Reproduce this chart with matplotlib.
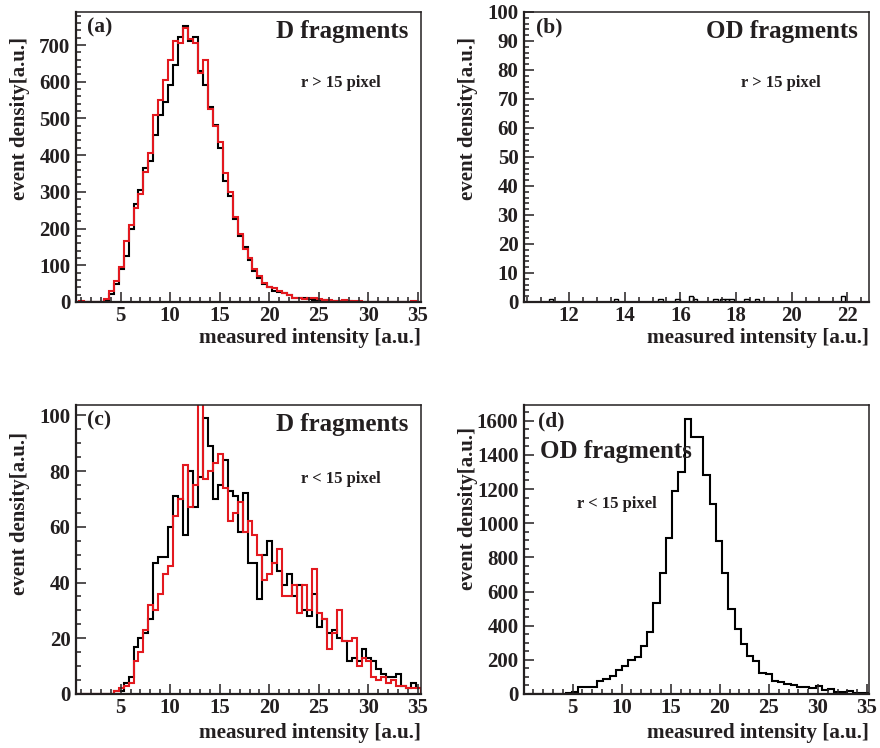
import numpy as np
import matplotlib
matplotlib.use("Agg")
import matplotlib.pyplot as plt
from matplotlib.ticker import MultipleLocator

# bins for the D-fragment histograms (a, c): 70 bins of width 0.5
D_EDGES = np.linspace(0.3, 35.3, 71)
# bins for the OD-fragment histogram (d): 55 bins
OD_EDGES = np.linspace(0.5, 35.5, 56)

# (a) D fragments, r > 15 pixel
a_black = [0, 0, 0, 0, 0, 0, 5, 22, 48, 90,
           125, 200, 268, 305, 365, 385, 455, 510, 545, 590,
           645, 722, 752, 712, 722, 630, 592, 532, 482, 420,
           330, 290, 225, 180, 150, 115, 85, 65, 48, 42,
           30, 28, 24, 18, 12, 10, 10, 7, 6, 5,
           4, 3, 3, 2, 2, 2, 1, 1, 1, 1,
           1, 1, 0, 0, 0, 0, 0, 0, 1, 0]
a_red = [0, 2, 1, 0, 0, 1, 8, 30, 58, 95,
         165, 210, 255, 295, 355, 405, 510, 550, 605, 660,
         710, 705, 745, 715, 705, 625, 660, 527, 480, 437,
         350, 300, 232, 185, 145, 120, 90, 72, 52, 42,
         38, 30, 25, 18, 12, 10, 8, 10, 12, 8,
         5, 5, 3, 3, 4, 2, 3, 2, 1, 1,
         1, 1, 0, 1, 1, 0, 1, 1, 3, 1]

# (b) OD fragments, r > 15 pixel: a few isolated entries
b_pos = [11.34, 13.68, 15.29, 15.89, 16.38, 16.52, 17.26, 17.52, 17.68, 17.84, 18.38, 18.76, 21.85]
b_val = [1, 1, 1, 1, 2, 1, 1, 1, 1, 1, 1, 1, 2]

# (c) D fragments, r < 15 pixel
c_black = [0, 0, 0, 0, 0, 0, 0, 0, 1, 1,
           4, 6, 17, 20, 22, 27, 47, 49, 49, 60,
           71, 70, 57, 80, 67, 78, 99, 89, 70, 75,
           84, 73, 71, 58, 72, 47, 47, 34, 50, 55,
           47, 44, 39, 43, 35, 39, 30, 28, 36, 24,
           27, 22, 23, 20, 19, 12, 13, 12, 16, 13,
           12, 9, 7, 6, 6, 7, 3, 2, 4, 2]
c_red = [0, 0, 0, 0, 0, 0, 0, 0, 1, 2,
         3, 4, 12, 15, 23, 32, 30, 36, 43, 46,
         64, 70, 82, 67, 75, 110, 77, 80, 83, 86,
         74, 62, 65, 69, 58, 62, 57, 50, 41, 43,
         47, 52, 35, 35, 39, 29, 39, 30, 45, 29,
         27, 16, 22, 30, 19, 19, 20, 10, 13, 12,
         6, 5, 6, 4, 5, 3, 3, 2, 2, 2]

# (d) OD fragments, r < 15 pixel
d_black = [0, 0, 0, 0, 0, 2, 5, 14, 41, 41,
           41, 74, 88, 107, 142, 166, 197, 216, 279, 361,
           532, 708, 916, 1191, 1300, 1608, 1507, 1507, 1283, 1113,
           893, 708, 499, 380, 292, 220, 191, 123, 119, 74,
           70, 58, 55, 43, 40, 35, 49, 21, 29, 10,
           10, 16, 6, 6, 5]

TEXT = "#231f20"
RED = "#e3191f"
LW = 1.5

plt.rcParams["font.family"] = ["Liberation Serif", "DejaVu Serif"]
plt.rcParams["font.weight"] = "bold"

fig = plt.figure(figsize=(8.8, 7.48), dpi=100)
ax_a = fig.add_axes([0.0864, 0.5963, 0.392, 0.3877])
ax_b = fig.add_axes([0.5955, 0.5963, 0.392, 0.3877])
ax_c = fig.add_axes([0.0864, 0.0722, 0.392, 0.3864])
ax_d = fig.add_axes([0.5955, 0.0722, 0.392, 0.3864])


def style(ax, xlim, ylim, xmaj, xmin, ymaj, ymin):
    ax.set_xlim(*xlim)
    ax.set_ylim(*ylim)
    ax.xaxis.set_major_locator(MultipleLocator(xmaj))
    ax.xaxis.set_minor_locator(MultipleLocator(xmin))
    ax.yaxis.set_major_locator(MultipleLocator(ymaj))
    ax.yaxis.set_minor_locator(MultipleLocator(ymin))
    ax.tick_params(which="both", direction="in", top=False, right=False,
                   colors=TEXT, labelsize=15, width=1.1)
    ax.tick_params(which="major", length=7)
    ax.tick_params(which="minor", length=3.5)
    ax.tick_params(axis="y", pad=4)
    ax.tick_params(axis="x", pad=3)
    for side, sp in ax.spines.items():
        sp.set_color(TEXT)
        sp.set_linewidth(1.6 if side in ("left", "bottom") else 1.1)


def labels(ax, ytop, xlab_y):
    ax.text(-0.163, ytop, "event density[a.u.]", transform=ax.transAxes,
            rotation=90, ha="center", va="top", fontsize=15, color=TEXT)
    ax.text(1.0, xlab_y, "measured intensity [a.u.]", transform=ax.transAxes,
            ha="right", va="center", fontsize=15.2, color=TEXT)


# (a)
ax_a.stairs(a_black, D_EDGES, color="black", lw=LW)
ax_a.stairs(a_red, D_EDGES, color=RED, lw=LW)
style(ax_a, (0.5, 35.3), (0, 790), 5, 1, 100, 20)
labels(ax_a, 0.914, -0.125)
ax_a.text(0.032, 0.948, "(a)", transform=ax_a.transAxes, ha="left", va="center", fontsize=15.5, color=TEXT)
ax_a.text(0.962, 0.931, "D fragments", transform=ax_a.transAxes, ha="right", va="center", fontsize=18, color=TEXT)
ax_a.text(0.652, 0.755, "r > 15 pixel", transform=ax_a.transAxes, ha="left", va="center", fontsize=12, color=TEXT)

# (b)
ax_b.bar(b_pos, b_val, width=0.16, fill=False, edgecolor="black", lw=1.0)
style(ax_b, (10.38, 22.78), (0, 100), 2, 0.5, 10, 2)
labels(ax_b, 0.914, -0.125)
ax_b.text(0.035, 0.948, "(b)", transform=ax_b.transAxes, ha="left", va="center", fontsize=15.5, color=TEXT)
ax_b.text(0.968, 0.931, "OD fragments", transform=ax_b.transAxes, ha="right", va="center", fontsize=18, color=TEXT)
ax_b.text(0.629, 0.755, "r > 15 pixel", transform=ax_b.transAxes, ha="left", va="center", fontsize=12, color=TEXT)

# (c)
ax_c.stairs(c_black, D_EDGES, color="black", lw=LW)
ax_c.stairs(c_red, D_EDGES, color=RED, lw=LW)
style(ax_c, (0.5, 35.3), (0, 103.7), 5, 1, 20, 5)
labels(ax_c, 0.907, -0.135)
ax_c.text(0.032, 0.948, "(c)", transform=ax_c.transAxes, ha="left", va="center", fontsize=15.5, color=TEXT)
ax_c.text(0.962, 0.931, "D fragments", transform=ax_c.transAxes, ha="right", va="center", fontsize=18, color=TEXT)
ax_c.text(0.652, 0.744, "r < 15 pixel", transform=ax_c.transAxes, ha="left", va="center", fontsize=12, color=TEXT)

# (d)
ax_d.stairs(d_black, OD_EDGES, color="black", lw=LW)
style(ax_d, (0.06, 35.2), (0, 1692), 5, 1, 200, 50)
labels(ax_d, 0.924, -0.135)
ax_d.text(0.041, 0.942, "(d)", transform=ax_d.transAxes, ha="left", va="center", fontsize=15.5, color=TEXT)
ax_d.text(0.046, 0.838, "OD fragments", transform=ax_d.transAxes, ha="left", va="center", fontsize=18, color=TEXT)
ax_d.text(0.154, 0.656, "r < 15 pixel", transform=ax_d.transAxes, ha="left", va="center", fontsize=12, color=TEXT)

fig.savefig("out.png", dpi=100)
